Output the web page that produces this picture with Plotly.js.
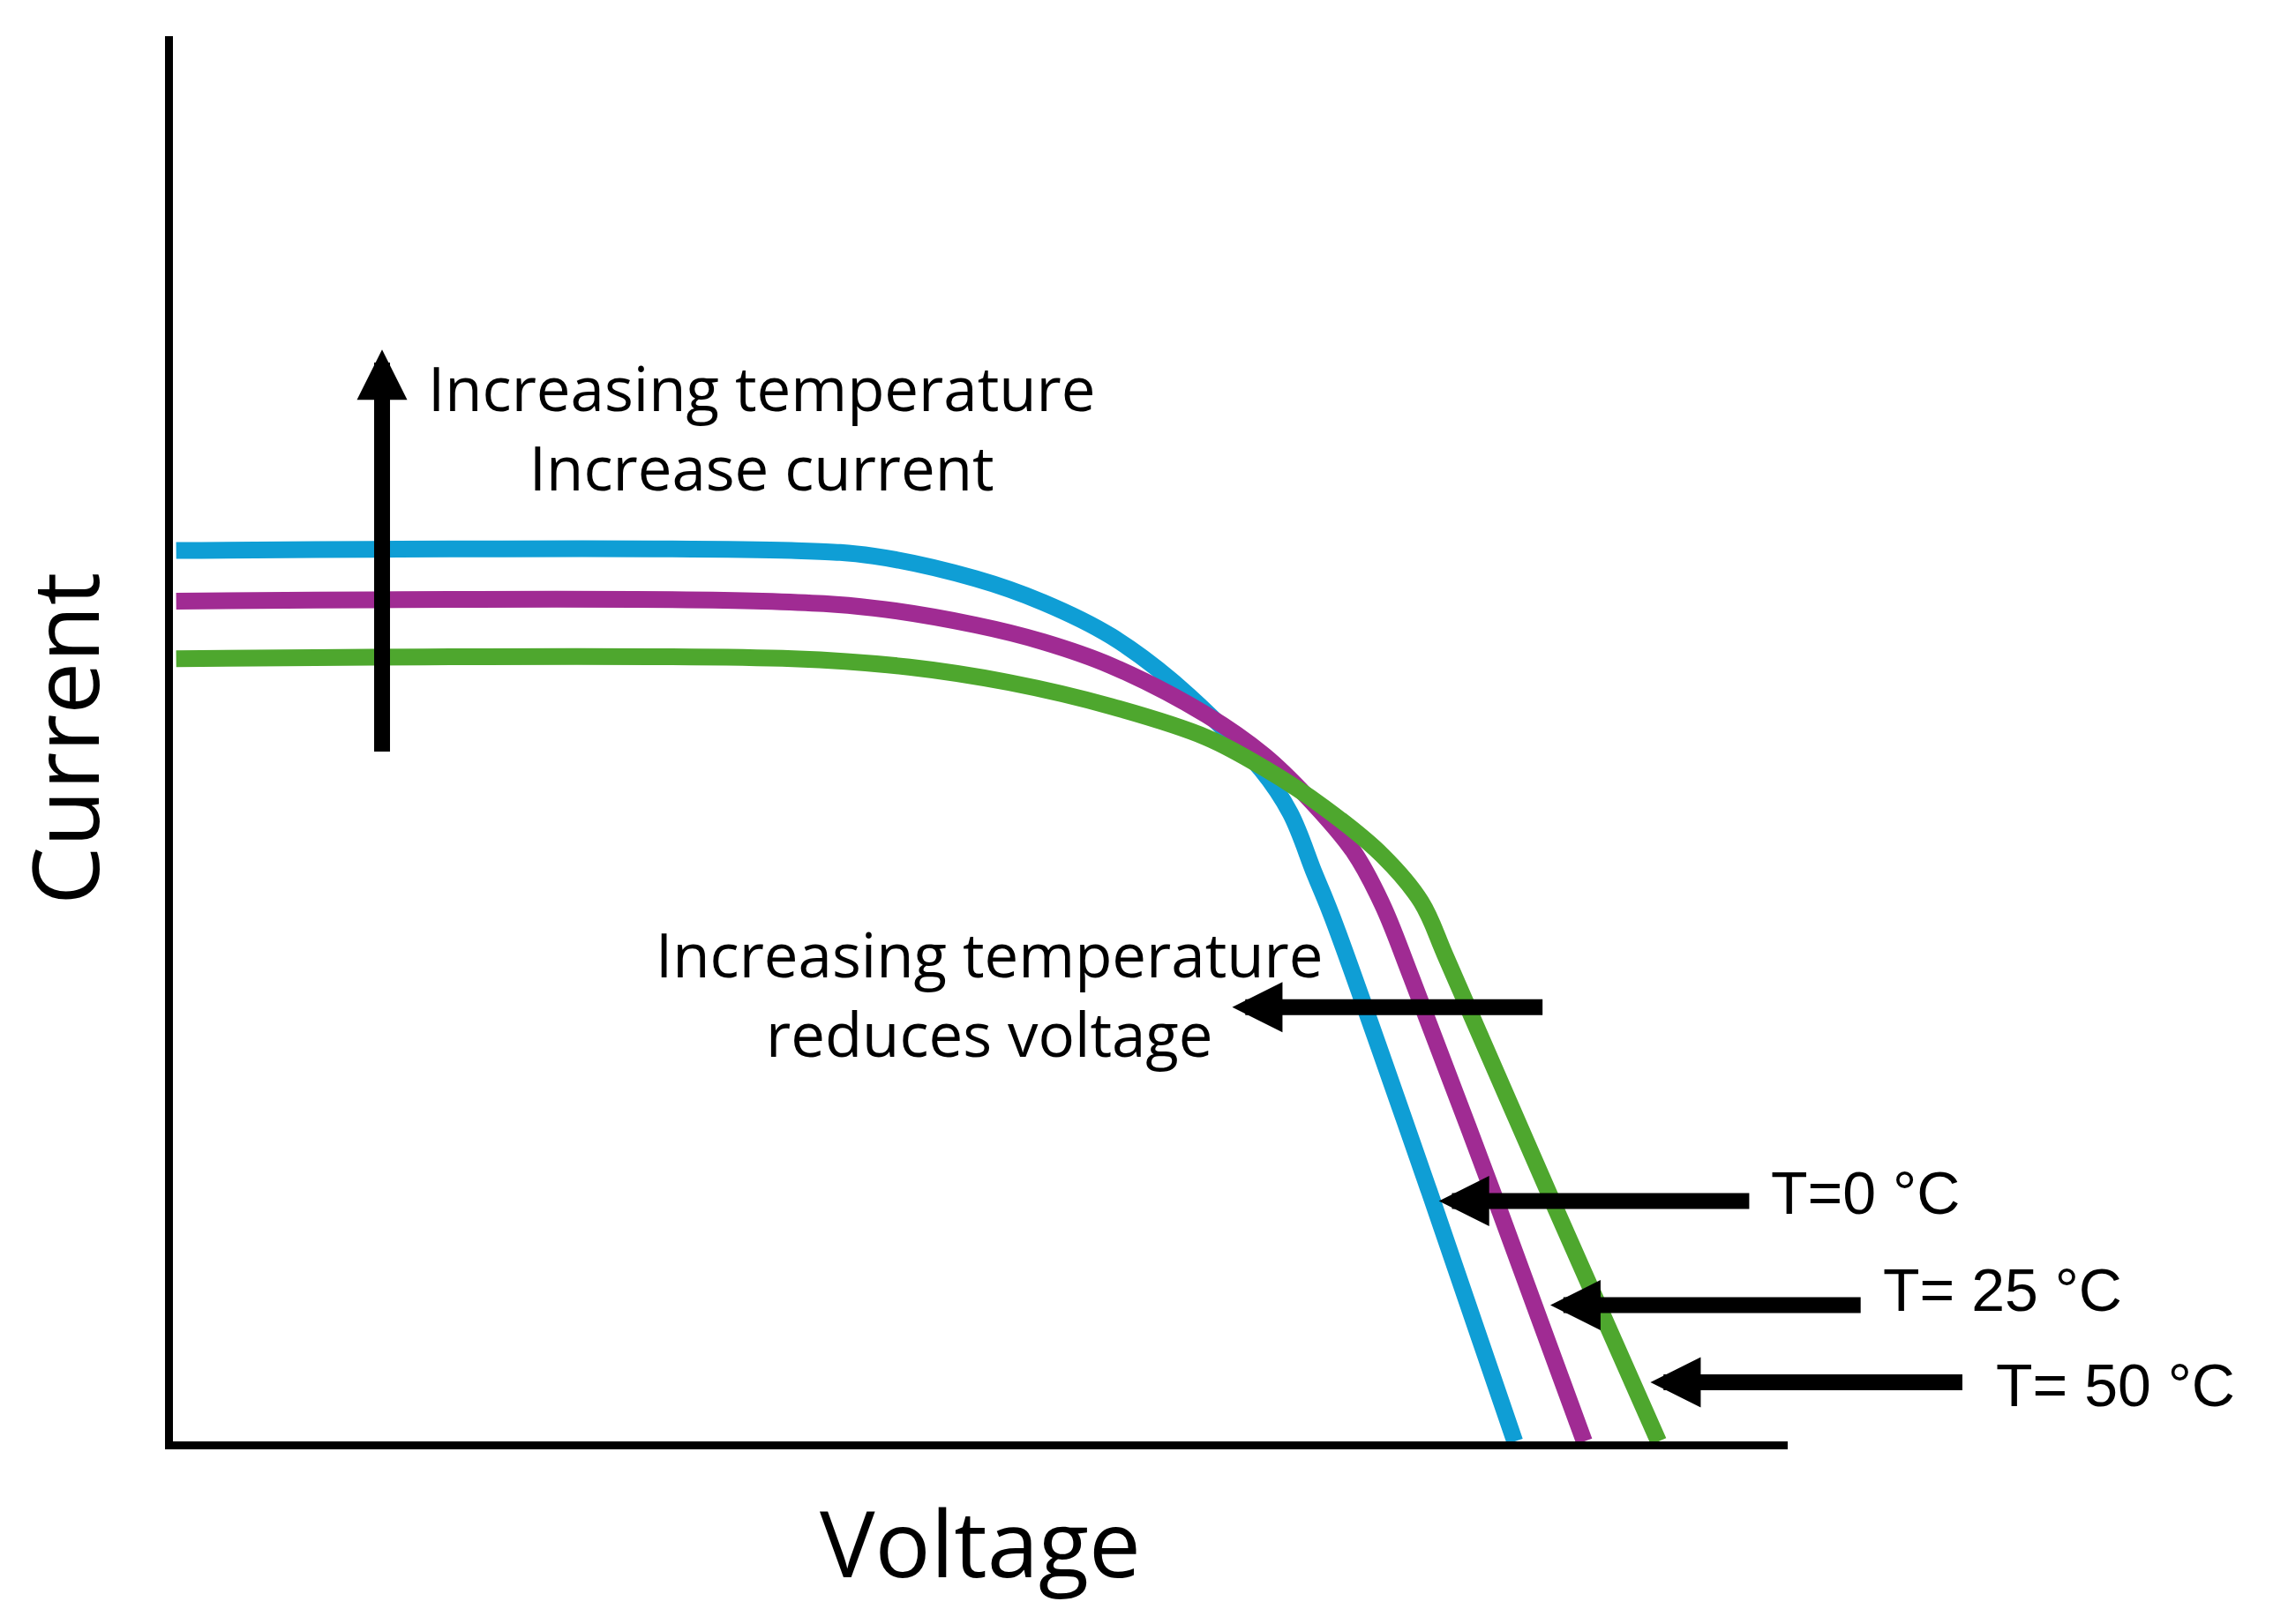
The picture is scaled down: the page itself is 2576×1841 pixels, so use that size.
<!DOCTYPE html>
<html>
<head>
<meta charset="utf-8">
<script src="https://cdn.plot.ly/plotly-3.0.1.min.js"></script>
<style>
html,body{margin:0;padding:0;background:#ffffff;}
#chart{width:2576px;height:1841px;}
</style>
</head>
<body>
<div id="chart"></div>
<script>
// ---- Data (schematic I-V curves, arbitrary units 0-100) ----
const seriesNames = ['T=0 °C', 'T= 25 °C', 'T= 50 °C'];

const voltageT0  = [0.2, 38.3, 43.4, 49.7, 53.9, 58.1, 62.3, 67.4, 69.2, 70.7, 71.8, 77.8, 83.1];
const currentT0  = [63.4, 63.4, 63.0, 61.4, 59.7, 57.3, 53.7, 47.8, 44.7, 40.4, 37.3, 17.8, 0.0];

const voltageT25 = [0.2, 36.5, 43.4, 49.7, 53.9, 58.1, 64.0, 67.6, 70.3, 73.1, 74.9, 76.7, 82.2, 87.4];
const currentT25 = [59.8, 59.8, 59.3, 58.1, 56.9, 55.2, 51.7, 48.8, 45.8, 42.0, 38.2, 33.0, 16.3, 0.0];

const voltageT50 = [0.2, 38.4, 45.6, 51.8, 58.1, 64.0, 67.6, 71.3, 74.9, 77.3, 78.9, 85.5, 92.0];
const currentT50 = [55.7, 55.7, 55.1, 54.0, 52.3, 50.1, 47.9, 45.1, 41.7, 38.4, 34.3, 16.9, 0.0];

const labelTexts = ['Increasing temperature<br>Increase current', 'Increasing temperature<br>reduces voltage'];
const xTitle = 'Voltage';
const yTitle = 'Current';

// ---- Traces ----
const lineColors = ['#0F9ED5', '#A02B93', '#4EA72E'];
const xs = [voltageT0, voltageT25, voltageT50];
const ys = [currentT0, currentT25, currentT50];
const traces = xs.map((x, i) => ({
  type: 'scatter',
  mode: 'lines',
  name: seriesNames[i],
  x: x,
  y: ys[i],
  line: {color: lineColors[i], width: 19, shape: 'spline', smoothing: 1.0},
  hoverinfo: 'skip',
  cliponaxis: false
}));

// ---- Annotations ----
const arrowStyle = {xref: 'x', yref: 'y', axref: 'x', ayref: 'y', showarrow: true,
  arrowhead: 2, arrowsize: 0.633, arrowwidth: 18, arrowcolor: '#000000', text: ''};

const annFont = {family: 'Open Sans, Noto Sans, sans-serif', size: 69, color: '#000000'};
const tFont = {family: 'Liberation Sans, Arial, sans-serif', size: 68, color: '#000000'};

const annotations = [
  Object.assign({}, arrowStyle, {x: 12.95, y: 77.7, ax: 12.95, ay: 49.0}),
  Object.assign({}, arrowStyle, {x: 65.6, y: 30.9, ax: 84.9, ay: 30.9}),
  Object.assign({}, arrowStyle, {x: 78.4, y: 17.1, ax: 97.7, ay: 17.1}),
  Object.assign({}, arrowStyle, {x: 85.3, y: 9.7, ax: 104.6, ay: 9.7}),
  Object.assign({}, arrowStyle, {x: 91.5, y: 4.2, ax: 110.9, ay: 4.2}),
  {xref: 'x', yref: 'y', x: 36.45, y: 72.2, text: labelTexts[0], showarrow: false,
   xanchor: 'center', yanchor: 'middle', align: 'center', font: annFont},
  {xref: 'x', yref: 'y', x: 50.6, y: 31.9, text: labelTexts[1], showarrow: false,
   xanchor: 'center', yanchor: 'middle', align: 'center', font: annFont},
  {xref: 'paper', yref: 'y', x: 0.9886, y: 17.7, text: seriesNames[0], showarrow: false,
   xanchor: 'left', yanchor: 'middle', font: tFont},
  {xref: 'paper', yref: 'y', x: 1.0580, y: 10.8, text: seriesNames[1], showarrow: false,
   xanchor: 'left', yanchor: 'middle', font: tFont},
  {xref: 'paper', yref: 'y', x: 1.1279, y: 4.0, text: seriesNames[2], showarrow: false,
   xanchor: 'left', yanchor: 'middle', font: tFont}
];

const layout = {
  width: 2576,
  height: 1841,
  margin: {l: 196, r: 550, t: 41, b: 207, pad: 0},
  paper_bgcolor: '#ffffff',
  plot_bgcolor: '#ffffff',
  showlegend: false,
  xaxis: {
    range: [0, 100],
    showgrid: false, zeroline: false, showticklabels: false, ticks: '',
    showline: true, linecolor: '#000000', linewidth: 9,
    title: {text: xTitle, font: {family: 'Open Sans, Noto Sans, sans-serif', size: 105, color: '#000000'}, standoff: 76}
  },
  yaxis: {
    range: [0, 100],
    showgrid: false, zeroline: false, showticklabels: false, ticks: '',
    showline: true, linecolor: '#000000', linewidth: 9,
    title: {text: yTitle, font: {family: 'Open Sans, Noto Sans, sans-serif', size: 105, color: '#000000'}, standoff: 60}
  },
  annotations: annotations
};

Plotly.newPlot('chart', traces, layout, {displayModeBar: false, staticPlot: true});
</script>
</body>
</html>
